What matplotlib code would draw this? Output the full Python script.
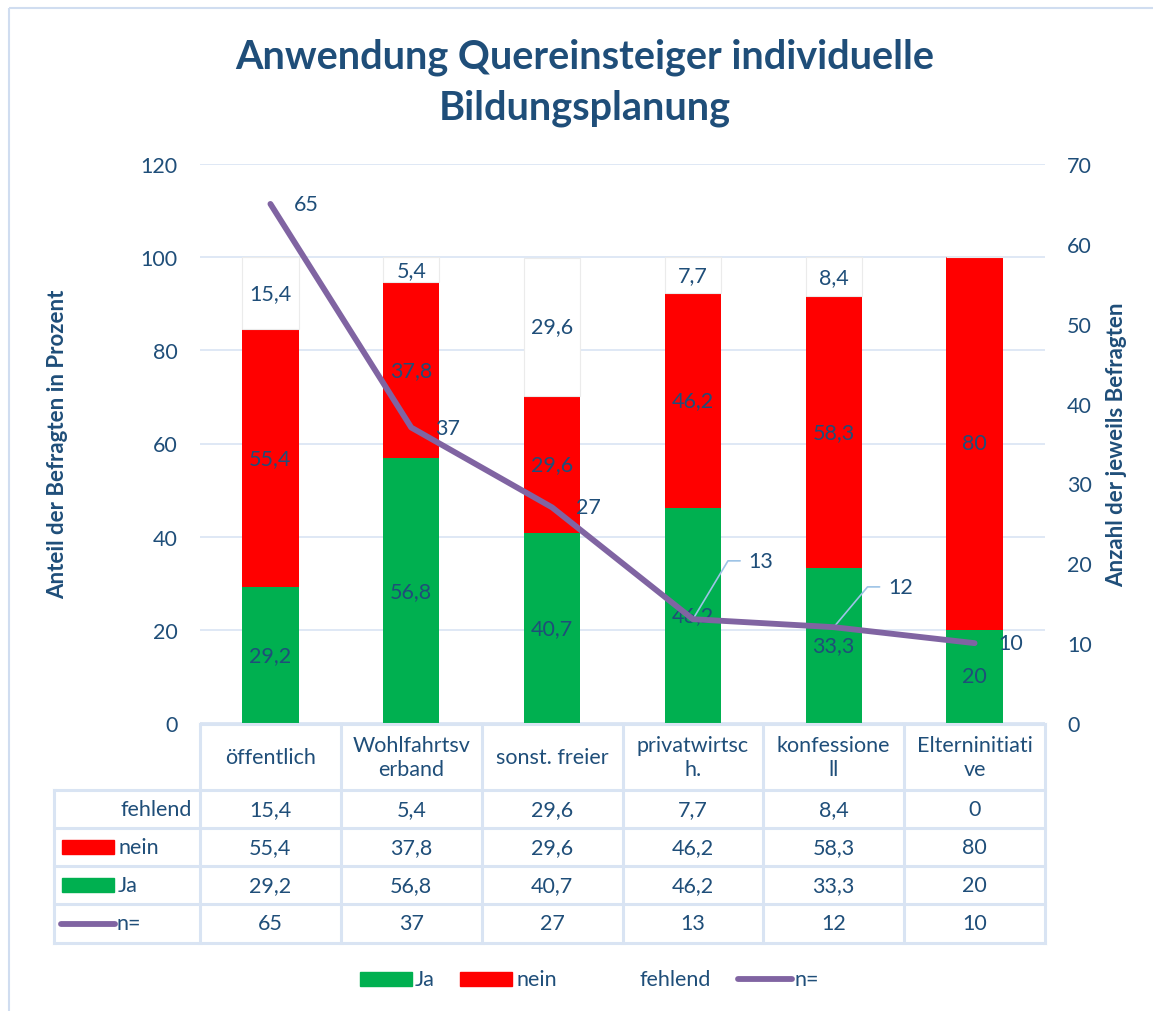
import numpy as np
import matplotlib.pyplot as plt
from matplotlib.patches import Rectangle

plt.rcParams['font.family'] = ['Lato', 'DejaVu Sans']

# Daten
kategorien = ['öffentlich', 'Wohlfahrtsverband', 'sonst. freier', 'privatwirtsch.',
              'konfessionell', 'Elterninitiative']
kopf = ['öffentlich', 'Wohlfahrtsv\nerband', 'sonst. freier', 'privatwirtsc\nh.',
        'konfessione\nll', 'Elterninitiati\nve']
ja = [29.2, 56.8, 40.7, 46.2, 33.3, 20]
nein = [55.4, 37.8, 29.6, 46.2, 58.3, 80]
fehlend = [15.4, 5.4, 29.6, 7.7, 8.4, 0]
n_befragt = [65, 37, 27, 13, 12, 10]

# Farben
BLAU = '#1F4E79'
GRUEN = '#00B050'
ROT = '#FF0000'
LILA = '#8064A2'
GITTER = '#D9E4F3'
RAHMEN = '#D0DDF0'
FS = 15.5

W, H = 1153, 1012
fig = plt.figure(figsize=(W / 100, H / 100), dpi=100)

def px(x0, y0, x1, y1):
    return [x0 / W, 1 - y1 / H, (x1 - x0) / W, (y1 - y0) / H]

ax = fig.add_axes(px(200, 165, 1045, 724))
x = np.arange(len(kategorien))
breite = 0.4

ax.bar(x, ja, breite, color=GRUEN, zorder=2)
ax.bar(x, nein, breite, bottom=ja, color=ROT, zorder=2)
unten = np.array(ja) + np.array(nein)
ax.bar(x, fehlend, breite, bottom=unten, color='white', edgecolor='#EBEBEB', lw=0.8, zorder=2)

# Beschriftungen der Balken
for i in range(len(x)):
    ax.text(x[i], ja[i] / 2, f'{ja[i]:g}'.replace('.', ','), ha='center', va='center',
            fontsize=FS, color=BLAU, zorder=3)
    ax.text(x[i], ja[i] + nein[i] / 2, f'{nein[i]:g}'.replace('.', ','), ha='center',
            va='center', fontsize=FS, color=BLAU, zorder=3)
    if fehlend[i] > 0:
        ax.text(x[i], unten[i] + fehlend[i] / 2, f'{fehlend[i]:g}'.replace('.', ','),
                ha='center', va='center', fontsize=FS, color=BLAU, zorder=3)

ax.set_xlim(-0.5, len(x) - 0.5)
ax.set_ylim(0, 120)
ax.set_yticks(range(0, 121, 20))
ax.grid(axis='y', color=GITTER, lw=1.2, zorder=0)
ax.set_axisbelow(True)
ax.set_xticks([])
for s in ax.spines.values():
    s.set_visible(False)
ax.tick_params(axis='y', length=0, pad=16, labelsize=FS, labelcolor=BLAU)
ax.set_ylabel('Anteil der Befragten in Prozent', fontsize=16, fontweight='bold',
              color=BLAU, labelpad=52)

# Linie n=
ax2 = ax.twinx()
ax2.plot(x, n_befragt, color=LILA, lw=4.2, solid_capstyle='round', zorder=4)
ax2.set_ylim(0, 70)
ax2.set_yticks(range(0, 71, 10))
for s in ax2.spines.values():
    s.set_visible(False)
ax2.tick_params(axis='y', length=0, pad=16, labelsize=FS, labelcolor=BLAU)
ax2.set_ylabel('Anzahl der jeweils Befragten', fontsize=16, fontweight='bold',
               color=BLAU, labelpad=10)

versatz = {3: (40, 42, 59), 4: (39, 29, 50)}
for i, v in enumerate(n_befragt):
    if i in versatz:
        dx, dy, winkel = versatz[i]
        ax2.annotate(str(v), (x[i], v), xytext=(dx, dy), textcoords='offset points',
                     ha='left', va='center', fontsize=FS, color=BLAU,
                     arrowprops=dict(arrowstyle='-', color='#9DC3E6', lw=1.2,
                                     shrinkA=4, shrinkB=0, relpos=(0, 0.5),
                                     connectionstyle=f'angle,angleA=0,angleB={winkel}'))
    else:
        ax2.annotate(str(v), (x[i], v), xytext=(17, 0), textcoords='offset points',
                     ha='left', va='center', fontsize=FS, color=BLAU)

# Tabelle und Legende in Pixelkoordinaten
ov = fig.add_axes([0, 0, 1, 1])
ov.set_xlim(0, W)
ov.set_ylim(H, 0)
ov.axis('off')
ov.patch.set_visible(False)

ov.add_patch(Rectangle((8.5, 8.5), W + 20, H + 20, fill=False, ec=RAHMEN, lw=1.5))

spalte = (1045 - 200) / len(kategorien)
links, tab_l = 200, 53.5
zeilen_y = [725, 790.5, 829, 867, 905, 944]
lc = dict(color=GITTER, lw=2.2)
ov.plot([links, 1045], [725, 725], **lc)
for y in zeilen_y[1:]:
    ov.plot([tab_l, 1045], [y, y], **lc)
ov.plot([tab_l, tab_l], [790.5, 944], **lc)
for j in range(len(kategorien) + 1):
    ov.plot([links + j * spalte] * 2, [725, 944], **lc)

zeilen = [('fehlend', fehlend), ('nein', nein), ('Ja', ja), ('n=', n_befragt)]
for j, name in enumerate(kopf):
    ov.text(links + (j + 0.5) * spalte, 758, name, ha='center', va='center',
            fontsize=FS, color=BLAU, linespacing=1.25)
for r, (name, werte) in enumerate(zeilen):
    yc = (zeilen_y[r + 1] + zeilen_y[r + 2]) / 2
    for j, v in enumerate(werte):
        ov.text(links + (j + 0.5) * spalte, yc, f'{v:g}'.replace('.', ','), ha='center',
                va='center', fontsize=FS, color=BLAU)
    if name == 'fehlend':
        ov.text(192, yc, name, ha='right', va='center', fontsize=FS, color=BLAU)
    elif name == 'n=':
        ov.plot([61, 115], [yc, yc], color=LILA, lw=4.2, solid_capstyle='round')
        ov.text(116, yc, name, ha='left', va='center', fontsize=FS, color=BLAU)
    else:
        ov.add_patch(Rectangle((62, yc - 7), 52, 14, color=ROT if name == 'nein' else GRUEN))
        ov.text(118, yc, name, ha='left', va='center', fontsize=FS, color=BLAU)

# Legende unten
ly = 980
ov.add_patch(Rectangle((360, ly - 7), 52, 14, color=GRUEN))
ov.text(415, ly, 'Ja', ha='left', va='center', fontsize=FS, color=BLAU)
ov.add_patch(Rectangle((460, ly - 7), 52, 14, color=ROT))
ov.text(516, ly, 'nein', ha='left', va='center', fontsize=FS, color=BLAU)
ov.text(640, ly, 'fehlend', ha='left', va='center', fontsize=FS, color=BLAU)
ov.plot([738, 792], [ly, ly], color=LILA, lw=4.2, solid_capstyle='round')
ov.text(795, ly, 'n=', ha='left', va='center', fontsize=FS, color=BLAU)

# Titel
ov.text(585, 57, 'Anwendung Quereinsteiger individuelle', ha='center', va='center',
        fontsize=28.5, fontweight='bold', color=BLAU)
ov.text(585, 108, 'Bildungsplanung', ha='center', va='center',
        fontsize=28.5, fontweight='bold', color=BLAU)

fig.savefig('out.png', dpi=100)
